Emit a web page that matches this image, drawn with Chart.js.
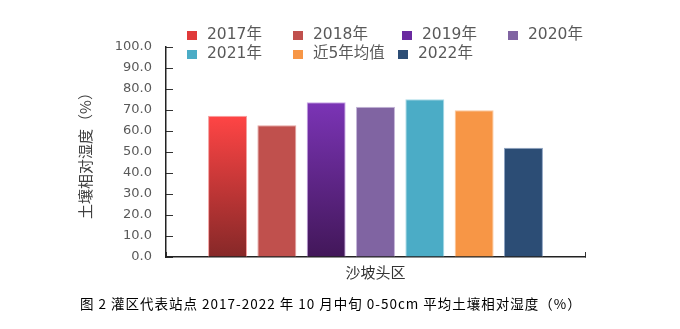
<!DOCTYPE html>
<html>
<head>
<meta charset="utf-8">
<script src="https://cdn.jsdelivr.net/npm/chart.js@4.4.1/dist/chart.umd.min.js"></script>
<style>
  body { margin: 0; background: #fff; }
  #wrap { position: relative; width: 680px; height: 329px; }
  #chart { position: absolute; left: 0; top: 0; }
  .lg { position: absolute; height: 18px; line-height: 18px; white-space: nowrap;
        font: 15.5px "DejaVu Sans", "Noto Sans CJK SC", sans-serif; color: #595959; }
  .lg i { display: inline-block; width: 10px; height: 9px; margin-right: 10px; vertical-align: -1px; }
  #caption { position: absolute; left: 80px; top: 293px; white-space: nowrap; letter-spacing: 1px;
             font: 13.5px "Noto Sans CJK SC", sans-serif; color: #000; }
</style>
</head>
<body>
<div id="wrap">
  <canvas id="chart" width="680" height="329"></canvas>
  <div id="caption">图 2 灌区代表站点 2017-2022 年 10 月中旬 0-50cm 平均土壤相对湿度（%）</div>
</div>
<script>
const categories = ['沙坡头区']
const seriesNames = ['2017年', '2018年', '2019年', '2020年', '2021年', '近5年均值', '2022年']
const seriesValues = [67.3, 62.7, 73.7, 71.6, 75.1, 69.9, 52.0]
const yMin = 0, yMax = 100, yStep = 10

// colours: [top, bottom] for gradient bars, plain otherwise
const barColors = [['#ff4545', '#862828'], '#c0504d', ['#7b34b6', '#421759'], '#8064a2', '#4bacc6', '#f79646', '#2c4d75']
const borderColors = ['#f4a0a0', '#e6a3a1', '#c9a6e6', '#c4b5d8', '#a8dbe8', '#fbc79c', '#8fa4c2']
const legendSwatch = ['#e03a3a', '#c0504d', '#6a2aa0', '#8064a2', '#4bacc6', '#f79646', '#2c4d75']

// legend slot positions (left, top)
const legendPos = [[187, 21], [293, 21], [402, 21], [508, 21], [187, 40], [293, 40], [398, 40]]

const wrap = document.getElementById('wrap')
seriesNames.forEach((name, i) => {
  const d = document.createElement('div')
  d.className = 'lg'
  d.style.left = legendPos[i][0] + 'px'
  d.style.top = legendPos[i][1] + 'px'
  d.innerHTML = '<i style="background:' + legendSwatch[i] + '"></i>' + name
  wrap.appendChild(d)
})

function fillFor(i) {
  const c = barColors[i]
  if (!Array.isArray(c)) return c
  return ctx => {
    const chart = ctx.chart
    const y = chart.scales && chart.scales.y
    if (!y || !chart.chartArea) return c[0]
    const g = chart.ctx.createLinearGradient(0, y.getPixelForValue(ctx.raw), 0, y.getPixelForValue(0))
    g.addColorStop(0, c[0])
    g.addColorStop(1, c[1])
    return g
  }
}

const datasets = seriesNames.map((name, i) => ({
  label: name,
  data: [seriesValues[i]],
  backgroundColor: fillFor(i),
  borderColor: borderColors[i],
  borderWidth: 1,
  categoryPercentage: 0.824,
  barPercentage: 0.79
}))

new Chart(document.getElementById('chart'), {
  type: 'bar',
  data: { labels: categories, datasets },
  options: {
    responsive: false,
    animation: false,
    layout: { padding: { left: 0, top: 47, right: 95, bottom: 42 } },
    plugins: { legend: { display: false }, tooltip: { enabled: false } },
    scales: {
      x: {
        grid: { drawOnChartArea: false, tickLength: -5, color: '#333', offset: true },
        border: { color: '#222', width: 1.5 },
        ticks: { color: '#333', padding: 11, font: { size: 15, family: 'Noto Sans CJK SC' } },
        afterFit: s => { s.height = 30 }
      },
      y: {
        min: yMin,
        max: yMax,
        ticks: {
          stepSize: yStep,
          callback: v => v.toFixed(1),
          color: '#595959',
          padding: 21,
          font: { size: 13, family: 'DejaVu Sans' }
        },
        grid: { drawOnChartArea: false, tickLength: -7, color: '#333' },
        border: { color: '#222', width: 1.5 },
        title: {
          display: true,
          text: '土壤相对湿度（%）',
          color: '#404040',
          padding: { top: 76, bottom: 0 },
          font: { size: 15, family: 'Noto Sans CJK SC' }
        },
        afterFit: s => { s.width = 166 }
      }
    }
  }
})
</script>
</body>
</html>
